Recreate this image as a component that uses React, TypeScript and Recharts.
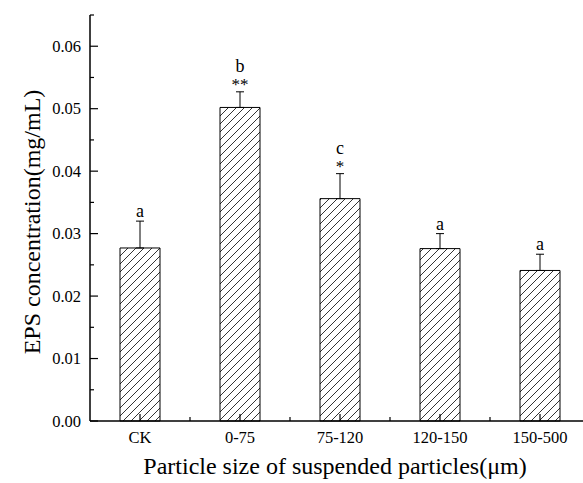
import React from 'react';
import {
  ComposedChart,
  Bar,
  Line,
  XAxis,
  YAxis,
  ErrorBar,
  LabelList,
  Label,
} from 'recharts';

const categories = ['CK', '0-75', '75-120', '120-150', '150-500'];
const epsValues = [0.0277, 0.0502, 0.0356, 0.0276, 0.0241];
const epsErrors = [0.0043, 0.0025, 0.004, 0.0024, 0.0026];
const letters = ['a', 'b', 'c', 'a', 'a'];
const stars = ['', '**', '*', '', ''];
const yTicks = [
  0, 0.005, 0.01, 0.015, 0.02, 0.025, 0.03, 0.035, 0.04, 0.045, 0.05, 0.055,
  0.06, 0.065,
];

const data = categories.map((name, i) => ({
  name,
  eps: epsValues[i],
  err: [0, epsErrors[i]],
  top: epsValues[i] + epsErrors[i],
}));

const serif = { fontFamily: "'Liberation Serif', 'DejaVu Serif', serif" };

function XTick(props: any) {
  const { x, y, payload, index, width, visibleTicksCount } = props;
  const band = width / (visibleTicksCount || categories.length);
  return (
    <g>
      <line x1={x} y1={y} x2={x} y2={y - 7} stroke="#000" strokeWidth={1.2} />
      {index > 0 && (
        <line
          x1={x - band / 2}
          y1={y}
          x2={x - band / 2}
          y2={y - 4}
          stroke="#000"
          strokeWidth={1.2}
        />
      )}
      <text
        x={x}
        y={y + 22}
        textAnchor="middle"
        style={serif}
        fontSize={16.5}
        fill="#000"
      >
        {payload.value}
      </text>
    </g>
  );
}

function YTick(props: any) {
  const { x, y, payload } = props;
  const major = Math.round(payload.value * 1000) % 10 === 0;
  return (
    <g>
      <line
        x1={x}
        y1={y}
        x2={x + (major ? 8 : 4)}
        y2={y}
        stroke="#000"
        strokeWidth={1.2}
      />
      {major && (
        <text
          x={x - 9}
          y={y}
          dy="0.35em"
          textAnchor="end"
          style={serif}
          fontSize={16.5}
          fill="#000"
        >
          {payload.value.toFixed(2)}
        </text>
      )}
    </g>
  );
}

function Marks(props: any) {
  const { x, y, index } = props;
  const s = stars[index];
  return (
    <g fill="#000" textAnchor="middle">
      {s && (
        <text x={x} y={y - 2} fontSize={17} style={serif}>
          {s}
        </text>
      )}
      <text x={x} y={s ? y - 20 : y - 4} fontSize={18} style={serif}>
        {letters[index]}
      </text>
    </g>
  );
}

export default function App() {
  return (
    <div
      style={{
        position: 'absolute',
        left: 0,
        top: 0,
        width: 583,
        height: 483,
        overflow: 'hidden',
        background: '#fff',
      }}
    >
      <ComposedChart
        width={600}
        height={483}
        data={data}
        margin={{ top: 15, right: 10, bottom: 0, left: 0 }}
      >
        <defs>
          <pattern
            id="hatch"
            patternUnits="userSpaceOnUse"
            width={8}
            height={8}
          >
            <rect width={8} height={8} fill="#fff" />
            <path
              d="M-2,2 L2,-2 M0,8 L8,0 M6,10 L10,6"
              stroke="#000"
              strokeWidth={0.8}
            />
          </pattern>
        </defs>
        <XAxis
          dataKey="name"
          height={62}
          tickLine={false}
          tickSize={0}
          tickMargin={0}
          interval={0}
          tick={<XTick />}
          axisLine={{ stroke: '#000', strokeWidth: 1.5 }}
        >
          <Label
            content={(p: any) => (
              <text
                x={p.viewBox.x + p.viewBox.width / 2 - 5}
                y={474}
                textAnchor="middle"
                style={serif}
                fontSize={24}
                fill="#000"
              >
                Particle size of suspended particles(μm)
              </text>
            )}
          />
        </XAxis>
        <YAxis
          width={90}
          domain={[0, 0.065]}
          ticks={yTicks}
          interval={0}
          tickLine={false}
          tickSize={0}
          tickMargin={0}
          tick={<YTick />}
          axisLine={{ stroke: '#000', strokeWidth: 1.5 }}
        >
          <Label
            content={(p: any) => {
              const cy = p.viewBox.y + p.viewBox.height / 2 + 4;
              return (
                <text
                  x={32}
                  y={cy}
                  transform={`rotate(-90 32 ${cy})`}
                  textAnchor="middle"
                  dominantBaseline="central"
                  style={serif}
                  fontSize={24}
                  fill="#000"
                >
                  EPS concentration(mg/mL)
                </text>
              );
            }}
          />
        </YAxis>
        <Bar
          dataKey="eps"
          barSize={40}
          fill="url(#hatch)"
          stroke="#000"
          strokeWidth={1}
          isAnimationActive={false}
        >
          <ErrorBar
            dataKey="err"
            width={4}
            stroke="#000"
            strokeWidth={1}
            direction="y"
          />
        </Bar>
        <Line
          dataKey="top"
          stroke="none"
          dot={false}
          activeDot={false}
          isAnimationActive={false}
        >
          <LabelList dataKey="top" content={<Marks />} />
        </Line>
      </ComposedChart>
    </div>
  );
}
